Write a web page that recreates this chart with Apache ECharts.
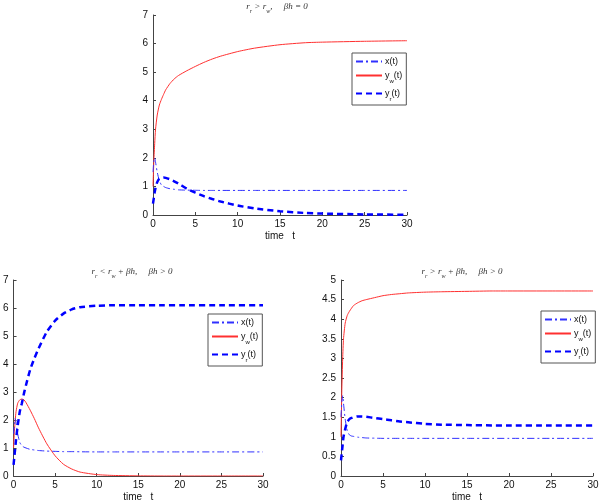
<!DOCTYPE html>
<html><head><meta charset="utf-8">
<script src="https://cdn.jsdelivr.net/npm/echarts@6/dist/echarts.min.js"></script>
<style>html,body{margin:0;padding:0;background:#fff}#c{width:602px;height:503px}</style>
</head><body><div id="c"></div>
<script>
// time samples shared by all three panels
const tVals = [0, 0.1, 0.2, 0.3, 0.5, 0.75, 1, 1.25, 1.5, 2, 2.5, 3, 4, 5, 6, 7, 8, 10, 12, 15, 18, 20, 25, 30];

// Panel A (top): r_r > r_w, βh = 0
const xA  = [1.5, 1.9, 2.0, 1.85, 1.5, 1.2, 1.05, 1.0, 0.96, 0.92, 0.9, 0.88, 0.87, 0.865, 0.86, 0.86, 0.86, 0.86, 0.86, 0.86, 0.86, 0.86, 0.86, 0.86];
const ywA = [1.0, 1.9, 2.5, 3.0, 3.5, 3.85, 4.05, 4.22, 4.38, 4.6, 4.76, 4.88, 5.05, 5.2, 5.34, 5.46, 5.56, 5.72, 5.84, 5.96, 6.03, 6.05, 6.08, 6.1];
const yrA = [0.4, 0.6, 0.8, 0.95, 1.15, 1.27, 1.3, 1.31, 1.3, 1.25, 1.18, 1.1, 0.92, 0.78, 0.66, 0.56, 0.47, 0.33, 0.23, 0.13, 0.07, 0.05, 0.02, 0.01];

// Panel B (bottom left): r_r < r_w + βh, βh > 0
const xB  = [1.5, 1.9, 2.05, 1.9, 1.5, 1.2, 1.08, 1.03, 1.0, 0.95, 0.93, 0.91, 0.89, 0.88, 0.87, 0.87, 0.865, 0.86, 0.86, 0.86, 0.86, 0.86, 0.86, 0.86];
const ywB = [1.0, 1.6, 2.0, 2.3, 2.6, 2.72, 2.75, 2.72, 2.62, 2.35, 2.05, 1.72, 1.15, 0.72, 0.42, 0.25, 0.14, 0.05, 0.02, 0.005, 0, 0, 0, 0];
const yrB = [0.4, 0.7, 1.0, 1.3, 1.8, 2.3, 2.6, 2.95, 3.25, 3.8, 4.2, 4.55, 5.15, 5.55, 5.8, 5.95, 6.03, 6.08, 6.1, 6.1, 6.1, 6.1, 6.1, 6.1];

// Panel C (bottom right): r_r > r_w + βh, βh > 0
const xC  = [1.5, 1.9, 2.05, 1.85, 1.45, 1.15, 1.05, 1.02, 1.01, 0.99, 0.98, 0.97, 0.965, 0.96, 0.96, 0.96, 0.96, 0.96, 0.96, 0.96, 0.96, 0.96, 0.96, 0.96];
const ywC = [1.0, 2.2, 3.0, 3.5, 3.9, 4.1, 4.2, 4.28, 4.35, 4.42, 4.47, 4.5, 4.55, 4.6, 4.63, 4.65, 4.67, 4.69, 4.7, 4.71, 4.72, 4.72, 4.72, 4.72];
const yrC = [0.4, 0.6, 0.8, 1.0, 1.2, 1.38, 1.45, 1.48, 1.5, 1.52, 1.52, 1.51, 1.48, 1.45, 1.42, 1.39, 1.37, 1.33, 1.31, 1.3, 1.29, 1.29, 1.29, 1.29];

const seriesNames = ['x(t)', 'y_w(t)', 'y_r(t)'];
const xTitle = 'time   t';

const pair = (ys) => tVals.map((t, i) => [t, ys[i]]);
const chart = echarts.init(document.getElementById('c'));

const tickFont = {fontFamily: 'Liberation Sans, Arial, sans-serif', fontSize: 10, color: '#111'};
const grids = [
  {left: 153, top: 15, width: 254, height: 200},
  {left: 11, top: 280, width: 252, height: 200},
  {left: 341, top: 280, width: 252, height: 200}
];
const yMax = [7, 7, 5], yInt = [1, 1, 0.5];

const xAxes = grids.map((g, i) => ({
  type: 'value', gridIndex: i, min: 0, max: 30, interval: 5,
  name: xTitle, nameLocation: 'middle', nameGap: 16,
  nameTextStyle: {fontFamily: 'Liberation Sans, Arial, sans-serif', fontSize: 10, color: '#111'},
  axisLine: {lineStyle: {color: '#444'}}, axisTick: {inside: true, length: 3, lineStyle: {color: '#444'}},
  axisLabel: Object.assign({margin: 4}, tickFont), splitLine: {show: false}
}));
const yAxes = grids.map((g, i) => ({
  type: 'value', gridIndex: i, min: 0, max: yMax[i], interval: yInt[i],
  axisLine: {show: true, lineStyle: {color: '#444'}}, axisTick: {show: true, inside: true, length: 3, lineStyle: {color: '#444'}},
  axisLabel: Object.assign({margin: 5}, tickFont), splitLine: {show: false}
}));

const styles = [
  {color: '#3030ff', width: 1, type: [7, 3, 2, 3]},
  {color: '#ff3030', width: 1, type: 'solid'},
  {color: '#0000ff', width: 2.5, type: [6, 4]}
];
const panels = [[xA, ywA, yrA], [xB, ywB, yrB], [xC, ywC, yrC]];
const series = [];
panels.forEach((p, gi) => {
  p.forEach((ys, si) => {
    series.push({
      type: 'line', name: seriesNames[si], xAxisIndex: gi, yAxisIndex: gi,
      data: pair(ys), showSymbol: false, symbol: 'none', smooth: 0.2,
      lineStyle: styles[si], itemStyle: {color: styles[si].color},
      z: si === 1 ? 1 : 2, animation: false
    });
  });
});

const titleRich = {
  s: {fontSize: 6, verticalAlign: 'bottom', padding: [0, 0, -3, 0], fontFamily: 'Liberation Serif, serif', fontStyle: 'italic', color: '#333'}
};
const titleStyle = {fontFamily: 'Liberation Serif, serif', fontStyle: 'italic', fontSize: 9, fontWeight: 'normal', color: '#333', rich: titleRich};
const titles = [
  {text: 'r{s|r} > r{s|w},     βh = 0', left: 277, top: 2},
  {text: 'r{s|r} < r{s|w} + βh,     βh > 0', left: 132, top: 267},
  {text: 'r{s|r} > r{s|w} + βh,     βh > 0', left: 462, top: 267}
].map(t => Object.assign({textAlign: 'center', textStyle: titleStyle, padding: 0}, t));

const legRich = {
  sub: {fontSize: 6, padding: [0, 0, -4, 0], verticalAlign: 'bottom', fontFamily: 'Liberation Sans, Arial, sans-serif', color: '#111'}
};
const legendFmt = (name) => {
  if (name === 'y_w(t)') return 'y{sub|w}(t)';
  if (name === 'y_r(t)') return 'y{sub|r}(t)';
  return name;
};
const legPos = [[352, 53], [208, 314], [541, 311]];
const legends = legPos.map(([l, t]) => ({
  data: seriesNames, left: l, top: t, orient: 'vertical',
  backgroundColor: '#fff', borderColor: '#555', borderWidth: 1, padding: [4, 4, 3, 3],
  itemWidth: 26, itemHeight: 8, itemGap: 5, selectedMode: false,
  itemStyle: {opacity: 0, borderWidth: 0},
  formatter: legendFmt,
  textStyle: {fontFamily: 'Liberation Sans, Arial, sans-serif', fontSize: 9, color: '#111', padding: [0, 0, 0, -2], rich: legRich}
}));

chart.setOption({
  animation: false,
  backgroundColor: '#fff',
  title: titles,
  legend: legends,
  grid: grids,
  xAxis: xAxes,
  yAxis: yAxes,
  series: series
});
</script>
</body></html>
